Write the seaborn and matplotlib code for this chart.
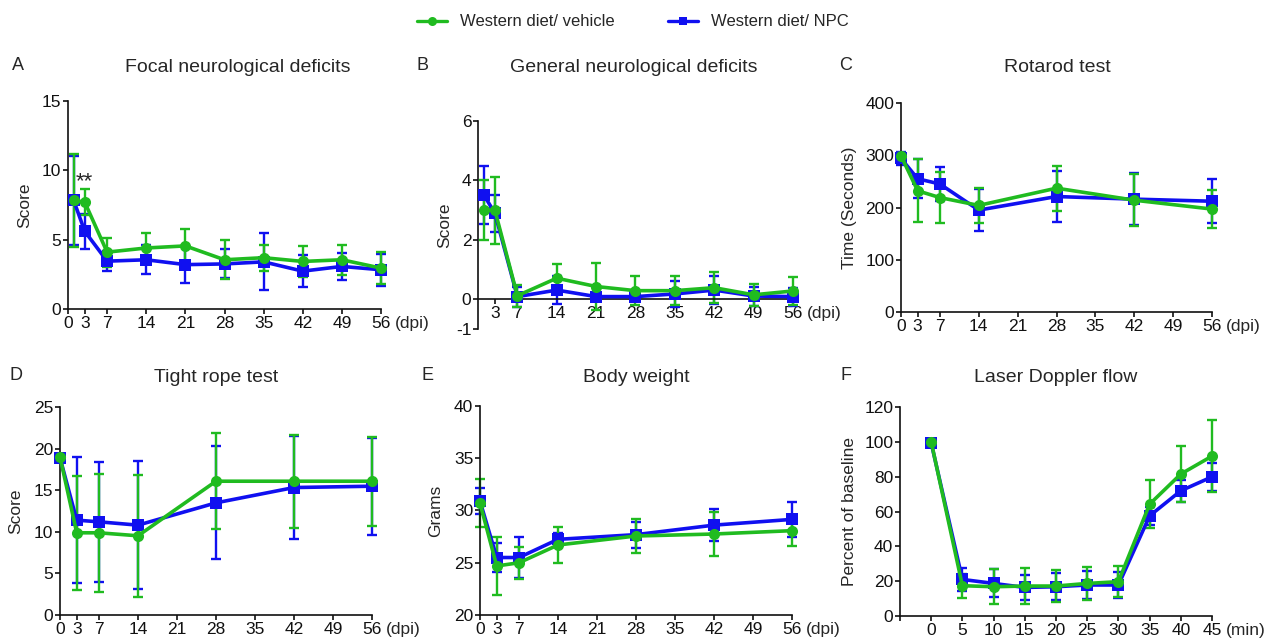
import matplotlib

matplotlib.use("Agg")
import matplotlib.pyplot as plt
from matplotlib.lines import Line2D
import numpy as np
import pandas as pd
import seaborn as sns

GREEN = "#20bb20"
BLUE = "#1010f0"
LBL_VEH = "Western diet/ vehicle"
LBL_NPC = "Western diet/ NPC"

# A - focal neurological deficits
days_a = [1, 3, 7, 14, 21, 28, 35, 42, 49, 56]
focal_veh = [7.85, 7.7, 4.1, 4.4, 4.55, 3.55, 3.7, 3.43, 3.55, 2.95]
focal_veh_sd = [3.35, 0.95, 1.05, 1.1, 1.25, 1.4, 0.95, 1.1, 1.1, 1.15]
focal_npc = [7.85, 5.6, 3.45, 3.55, 3.2, 3.25, 3.4, 2.73, 3.07, 2.83]
focal_npc_sd = [3.2, 1.25, 0.7, 1.05, 1.35, 1.05, 2.05, 1.15, 1.0, 1.15]

# B - general neurological deficits
days_b = [1, 3, 7, 14, 21, 28, 35, 42, 49, 56]
general_veh = [3.0, 3.0, 0.12, 0.71, 0.43, 0.29, 0.29, 0.39, 0.15, 0.28]
general_veh_sd = [1.0, 1.13, 0.37, 0.49, 0.78, 0.48, 0.48, 0.53, 0.37, 0.48]
general_npc = [3.52, 2.9, 0.09, 0.31, 0.09, 0.09, 0.18, 0.31, 0.11, 0.09]
general_npc_sd = [0.97, 0.62, 0.34, 0.48, 0.12, 0.12, 0.45, 0.48, 0.32, 0.3]

# C - rotarod
days_c = [0, 3, 7, 14, 28, 42, 56]
rotarod_veh = [299, 232, 219, 204, 237, 214, 197]
rotarod_veh_sd = [5, 60, 49, 34, 43, 50, 36]
rotarod_npc = [294, 255, 245, 195, 221, 216, 212]
rotarod_npc_sd = [13, 37, 32, 40, 48, 50, 42]

# D - tight rope
days_d = [0, 3, 7, 14, 28, 42, 56]
rope_veh = [19.0, 9.88, 9.88, 9.52, 16.08, 16.08, 16.08]
rope_veh_sd = [0.3, 6.86, 7.1, 7.3, 5.8, 5.6, 5.35]
rope_npc = [18.9, 11.4, 11.2, 10.8, 13.48, 15.32, 15.48]
rope_npc_sd = [0.3, 7.6, 7.2, 7.7, 6.8, 6.2, 5.82]

# E - body weight
days_e = [0, 3, 7, 14, 28, 42, 56]
weight_veh = [30.69, 24.69, 25.0, 26.7, 27.56, 27.75, 28.07]
weight_veh_sd = [2.3, 2.8, 1.55, 1.75, 1.6, 2.1, 1.5]
weight_npc = [30.9, 25.5, 25.5, 27.24, 27.69, 28.6, 29.15]
weight_npc_sd = [1.25, 1.4, 2.0, 0.6, 1.25, 1.5, 1.7]

# F - laser doppler flow
mins_f = [0, 5, 10, 15, 20, 25, 30, 35, 40, 45]
ldf_veh = [100, 17.4, 16.8, 17.2, 17.2, 18.7, 19.7, 64.2, 81.5, 91.8]
ldf_veh_sd = [1, 7, 10, 10.5, 9.3, 9.4, 9, 13.7, 16, 20.8]
ldf_npc = [99.4, 21, 18.7, 16.4, 16.8, 17.8, 17.8, 57.5, 71.9, 79.9]
ldf_npc_sd = [1.5, 6.7, 8, 7.4, 7.9, 8, 7.2, 5.3, 6.3, 8.2]

dpi_ticks = [0, 3, 7, 14, 21, 28, 35, 42, 49, 56]

sns.set_style("ticks")
plt.rcParams["font.family"] = ["Liberation Sans", "DejaVu Sans"]
plt.rcParams["axes.unicode_minus"] = False
plt.rcParams["axes.linewidth"] = 1.2
plt.rcParams["xtick.major.width"] = 1.2
plt.rcParams["ytick.major.width"] = 1.2
plt.rcParams["xtick.major.size"] = 3.6
plt.rcParams["ytick.major.size"] = 3.6
plt.rcParams["xtick.major.pad"] = 1.2
plt.rcParams["ytick.major.pad"] = 1.2
plt.rcParams["xtick.labelsize"] = 12.5
plt.rcParams["ytick.labelsize"] = 12.5
plt.rcParams["xtick.color"] = "#111111"
plt.rcParams["ytick.color"] = "#111111"
plt.rcParams["axes.edgecolor"] = "#111111"

W, H = 1266, 640
fig = plt.figure(figsize=(W / 100, H / 100), dpi=100)


def px_axes(left, top, right, bottom):
    return fig.add_axes([left / W, 1 - bottom / H, (right - left) / W, (bottom - top) / H])


def draw_panel(ax, x, veh, veh_sd, npc, npc_sd):
    df = pd.DataFrame({
        "x": list(x) + list(x),
        "y": list(npc) + list(veh),
        "group": [LBL_NPC] * len(x) + [LBL_VEH] * len(x),
    })
    ax.errorbar(x, npc, yerr=npc_sd, fmt="none", ecolor=BLUE, elinewidth=1.7,
                capsize=3.5, capthick=1.7, clip_on=False, zorder=2)
    ax.errorbar(x, veh, yerr=veh_sd, fmt="none", ecolor=GREEN, elinewidth=1.7,
                capsize=3.5, capthick=1.7, clip_on=False, zorder=2)
    sns.lineplot(data=df, x="x", y="y", hue="group", style="group",
                 hue_order=[LBL_NPC, LBL_VEH], style_order=[LBL_NPC, LBL_VEH],
                 palette={LBL_NPC: BLUE, LBL_VEH: GREEN},
                 markers={LBL_NPC: "s", LBL_VEH: "o"}, dashes=False,
                 linewidth=2.6, markersize=8, markeredgewidth=0,
                 legend=False, ax=ax, clip_on=False, zorder=3)
    sns.despine(ax=ax)
    ax.set_xlabel("")


def unit_label(ax, text, trans=None):
    if trans is None:
        trans = "axes fraction"
    ax.annotate(text, xy=(1, 0), xycoords=trans, xytext=(10, -4.8),
                textcoords="offset points", ha="left", va="top", fontsize=12.5)


# A
ax_a = px_axes(68, 101, 381, 309)
draw_panel(ax_a, days_a, focal_veh, focal_veh_sd, focal_npc, focal_npc_sd)
ax_a.set_xlim(0, 56)
ax_a.set_ylim(0, 15)
ax_a.set_xticks(dpi_ticks)
ax_a.set_yticks([0, 5, 10, 15])
ax_a.set_ylabel("Score", fontsize=12.5)
ax_a.yaxis.set_label_coords(-0.115, 0.5)
ax_a.text(3.0, 8.8, "**", ha="center", va="baseline", fontsize=16)
unit_label(ax_a, "(dpi)")

# B
ax_b = px_axes(478, 121, 793, 329)
draw_panel(ax_b, days_b, general_veh, general_veh_sd, general_npc, general_npc_sd)
ax_b.set_xlim(0, 56)
ax_b.set_ylim(-1, 6)
ax_b.spines["bottom"].set_position(("data", 0))
ax_b.set_xticks(dpi_ticks[1:])
ax_b.set_yticks([-1, 0, 2, 4, 6])
ax_b.set_ylabel("Score", fontsize=12.5)
ax_b.yaxis.set_label_coords(-0.083, 0.5)
unit_label(ax_b, "(dpi)", trans=ax_b.get_yaxis_transform())

# C
ax_c = px_axes(901, 103, 1212, 312)
draw_panel(ax_c, days_c, rotarod_veh, rotarod_veh_sd, rotarod_npc, rotarod_npc_sd)
ax_c.set_xlim(0, 56)
ax_c.set_ylim(0, 400)
ax_c.set_xticks(dpi_ticks)
ax_c.set_yticks([0, 100, 200, 300, 400])
ax_c.set_ylabel("Time (Seconds)", fontsize=12.5)
ax_c.yaxis.set_label_coords(-0.141, 0.5)
unit_label(ax_c, "(dpi)")

# D
ax_d = px_axes(60, 407, 372, 615)
draw_panel(ax_d, days_d, rope_veh, rope_veh_sd, rope_npc, rope_npc_sd)
ax_d.set_xlim(0, 56)
ax_d.set_ylim(0, 25)
ax_d.set_xticks(dpi_ticks)
ax_d.set_yticks([0, 5, 10, 15, 20, 25])
ax_d.set_ylabel("Score", fontsize=12.5)
ax_d.yaxis.set_label_coords(-0.119, 0.5)
unit_label(ax_d, "(dpi)")

# E
ax_e = px_axes(480, 406, 792, 615)
draw_panel(ax_e, days_e, weight_veh, weight_veh_sd, weight_npc, weight_npc_sd)
ax_e.set_xlim(0, 56)
ax_e.set_ylim(20, 40)
ax_e.set_xticks(dpi_ticks)
ax_e.set_yticks([20, 25, 30, 35, 40])
ax_e.set_ylabel("Grams", fontsize=12.5)
ax_e.yaxis.set_label_coords(-0.119, 0.5)
unit_label(ax_e, "(dpi)")

# F
ax_f = px_axes(900, 407, 1212, 616)
draw_panel(ax_f, mins_f, ldf_veh, ldf_veh_sd, ldf_npc, ldf_npc_sd)
ax_f.set_xlim(-5, 45)
ax_f.set_ylim(0, 120)
ax_f.set_xticks([-5] + mins_f)
ax_f.set_xticklabels([""] + [str(m) for m in mins_f])
ax_f.set_yticks([0, 20, 40, 60, 80, 100, 120])
ax_f.set_ylabel("Percent of baseline", fontsize=12.5)
ax_f.yaxis.set_label_coords(-0.138, 0.5)
unit_label(ax_f, "(min)")

# titles and panel letters
titles = [
    (238, 68, "Focal neurological deficits"),
    (634, 68, "General neurological deficits"),
    (1057, 68, "Rotarod test"),
    (216, 377, "Tight rope test"),
    (636, 377, "Body weight"),
    (1056, 377, "Laser Doppler flow"),
]
for x, y, t in titles:
    fig.text(x / W, 1 - y / H, t, ha="center", va="center", fontsize=14)

letters = [(18, 66, "A"), (422, 66, "B"), (846, 66, "C"),
           (16, 376, "D"), (428, 376, "E"), (846, 376, "F")]
for x, y, t in letters:
    fig.text(x / W, 1 - y / H, t, ha="center", va="center", fontsize=13)

handles = [
    Line2D([], [], color=GREEN, marker="o", lw=2.4, markersize=6.5, markeredgewidth=0),
    Line2D([], [], color=BLUE, marker="s", lw=2.4, markersize=6, markeredgewidth=0),
]
fig.legend(handles, [LBL_VEH, LBL_NPC], loc="center", bbox_to_anchor=(0.5, 1 - 22 / H),
           ncol=2, frameon=False, fontsize=12, handlelength=1.8, columnspacing=3.2,
           handletextpad=0.8)

fig.savefig("out.png", dpi=100)
plt.close(fig)
